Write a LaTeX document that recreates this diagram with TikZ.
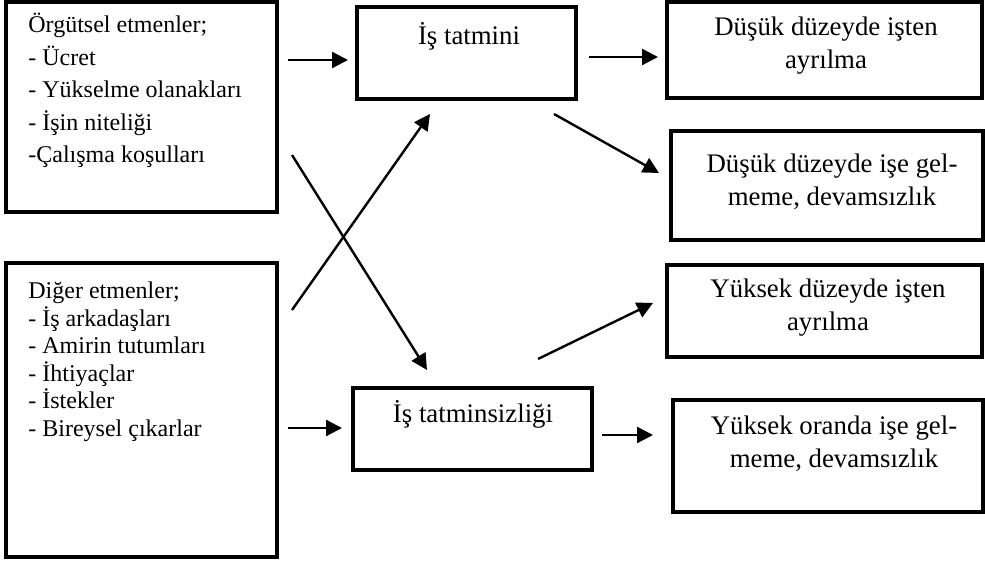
\documentclass[tikz,border=0pt]{standalone}
\usepackage{fontspec}
\setmainfont{Liberation Serif}
\usetikzlibrary{arrows.meta}

\begin{document}
\begin{tikzpicture}[x=0.5pt,y=-0.5pt,
    kutu/.style={draw, line width=2pt, inner sep=0pt},
    ok/.style={line width=1.2pt, -{Triangle[length=8pt,width=8pt]}},
    yazi/.style={inner sep=0pt, font=\fontsize{13.4pt}{16.5pt}\selectfont}]
    \useasboundingbox (0,0) rectangle (985,565);
    \node[kutu, minimum width=135.5pt, minimum height=105pt] (orgut) at (141.5,107) {};
    \node[kutu, minimum width=135.5pt, minimum height=147pt] (diger) at (141.5,410) {};
    \node[kutu, minimum width=109.5pt, minimum height=46pt] (tatmin) at (466.5,53) {};
    \node[kutu, minimum width=119.5pt, minimum height=41pt] (tatminsiz) at (472.5,429) {};
    \node[kutu, minimum width=157.5pt, minimum height=48pt] (dusukay) at (824.5,50) {};
    \node[kutu, minimum width=156pt, minimum height=54.5pt] (dusukdev) at (827,185.5) {};
    \node[kutu, minimum width=157.5pt, minimum height=46pt] (yuksekay) at (824.5,311) {};
    \node[kutu, minimum width=155pt, minimum height=56pt] (yuksekdev) at (828,456) {};
    \node[yazi, font=\fontsize{12pt}{16.25pt}\selectfont, align=left, anchor=base west] (orgut-t) at (28,163)
        {Örgütsel etmenler;\\- Ücret\\- Yükselme olanakları\\- İşin niteliği\\-Çalışma koşulları};
    \node[yazi, font=\fontsize{12pt}{13.75pt}\selectfont, align=left, anchor=base west] (diger-t) at (28,436.5)
        {Diğer etmenler;\\- İş arkadaşları\\- Amirin tutumları\\- İhtiyaçlar\\- İstekler\\- Bireysel çıkarlar};
    \node[yazi, anchor=base] (tatmin-t) at (469,45) {İş tatmini};
    \node[yazi, anchor=base] (tatminsiz-t) at (473,423) {İş tatminsizliği};
    \node[yazi, align=center, anchor=base] (dusukay-t) at (826,69) {Düşük düzeyde işten\\ayrılma};
    \node[yazi, align=center, anchor=base] (dusukdev-t) at (832,206) {Düşük düzeyde işe gel-\\meme, devamsızlık};
    \node[yazi, align=center, anchor=base] (yuksekay-t) at (828,331) {Yüksek düzeyde işten\\ayrılma};
    \node[yazi, align=center, anchor=base] (yuksekdev-t) at (834,468) {Yüksek oranda işe gel-\\meme, devamsızlık};
    \draw[ok] ([shift={(9,-47)}]orgut.east) -- ([shift={(-7,7)}]tatmin.west);
    \draw[ok] ([shift={(11,4)}]tatmin.east) -- ([shift={(-7,7)}]dusukay.west);
    \draw[ok] ([shift={(-24,13)}]tatmin.south east) -- ([shift={(-10,-12.5)}]dusukdev.west);
    \draw[ok] ([shift={(13,48)}]orgut.east) -- ([shift={(-45.5,-16)}]tatminsiz.north);
    \draw[ok] ([shift={(13,49)}]diger.north east) -- ([shift={(-36.5,13)}]tatmin.south);
    \draw[ok] ([shift={(65.5,-27)}]tatminsiz.north) -- ([shift={(-12,-8)}]yuksekay.west);
    \draw[ok] ([shift={(9,18)}]diger.east) -- ([shift={(-9,-1)}]tatminsiz.west);
    \draw[ok] ([shift={(8,6)}]tatminsiz.east) -- ([shift={(-18,-21)}]yuksekdev.west);
\end{tikzpicture}
\end{document}
